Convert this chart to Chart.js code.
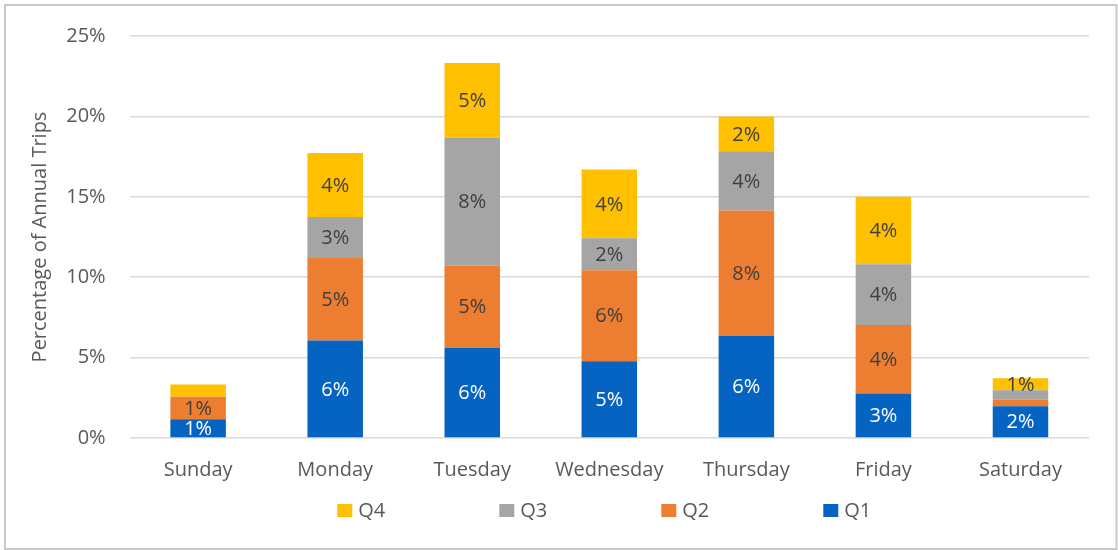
<!DOCTYPE html>
<html>
<head>
<meta charset="utf-8">
<script src="https://cdn.jsdelivr.net/npm/chart.js@4/dist/chart.umd.min.js"></script>
<style>
  html, body { margin: 0; padding: 0; background: #ffffff; }
  #wrap { position: relative; width: 1118px; height: 550px; }
</style>
</head>
<body>
<div id="wrap"><canvas id="c" width="1118" height="550"></canvas></div>
<script>
const categories = ['Sunday', 'Monday', 'Tuesday', 'Wednesday', 'Thursday', 'Friday', 'Saturday'];
const seriesNames = ['Q1', 'Q2', 'Q3', 'Q4'];
const q1 = [1.16, 6.07, 5.60, 4.77, 6.36, 2.77, 1.98];
const q2 = [1.41, 5.13, 5.12, 5.66, 7.79, 4.25, 0.40];
const q3 = [0.00, 2.55, 7.95, 1.99, 3.68, 3.78, 0.59];
const q4 = [0.76, 3.97, 4.65, 4.27, 2.16, 4.20, 0.74];
const yTicks = [0, 5, 10, 15, 20, 25];
const hiddenLabels = [['Q4', 'Sunday'], ['Q3', 'Saturday'], ['Q2', 'Saturday']];
const axisTitle = 'Percentage of Annual Trips';

const colors = { Q1: '#0563C1', Q2: '#ED7D31', Q3: '#A5A5A5', Q4: '#FFC000' };
const labelColors = { Q1: '#FFFFFF', Q2: '#404040', Q3: '#404040', Q4: '#404040' };
const FONT = "'Open Sans', 'Liberation Sans', sans-serif";

const seriesValues = [q1, q2, q3, q4];
const datasets = seriesNames.map((name, i) => ({
  label: name,
  data: seriesValues[i],
  backgroundColor: colors[name],
  borderWidth: 0,
  categoryPercentage: 1.0,
  barPercentage: 0.405
}));

const dataLabelPlugin = {
  id: 'dataLabels',
  afterDatasetsDraw(chart) {
    const ctx = chart.ctx;
    ctx.save();
    ctx.font = "20px " + FONT;
    ctx.textAlign = 'center';
    ctx.textBaseline = 'middle';
    chart.data.datasets.forEach((ds, di) => {
      const meta = chart.getDatasetMeta(di);
      meta.data.forEach((bar, i) => {
        const v = ds.data[i];
        if (!v) return;
        const cat = chart.data.labels[i];
        if (hiddenLabels.some(h => h[0] === ds.label && h[1] === cat)) return;
        const yc = (bar.y + bar.base) / 2;
        ctx.fillStyle = labelColors[ds.label];
        ctx.fillText(Math.round(v) + '%', bar.x, yc + 1);
      });
    });
    ctx.restore();
  }
};

const legendPlugin = {
  id: 'customLegend',
  afterDraw(chart) {
    const ctx = chart.ctx;
    const ca = chart.chartArea;
    const center = (ca.left + ca.right) / 2;
    const start = center - 272;
    const step = 162;
    const y = 510.5;
    ctx.save();
    ctx.font = "20px " + FONT;
    ctx.textAlign = 'left';
    ctx.textBaseline = 'middle';
    const items = chart.data.datasets.slice().reverse();
    items.forEach((ds, k) => {
      const x = start + k * step;
      ctx.fillStyle = ds.backgroundColor;
      ctx.fillRect(x, y - 6.5, 15, 13);
      ctx.fillStyle = '#595959';
      ctx.fillText(ds.label, x + 21, y + 1);
    });
    ctx.restore();
  }
};

const borderPlugin = {
  id: 'outerBorder',
  afterDraw(chart) {
    const ctx = chart.ctx;
    ctx.save();
    ctx.strokeStyle = '#C9C9C9';
    ctx.lineWidth = 2;
    ctx.strokeRect(5, 5, 1111.5, 544);
    ctx.restore();
  }
};

new Chart(document.getElementById('c'), {
  type: 'bar',
  data: { labels: categories, datasets: datasets },
  options: {
    responsive: false,
    devicePixelRatio: 1,
    animation: false,
    layout: { padding: { top: 34, left: 24, right: 29, bottom: 48 } },
    plugins: {
      legend: { display: false },
      tooltip: { enabled: false }
    },
    scales: {
      x: {
        stacked: true,
        grid: { display: false, drawTicks: false },
        border: { display: false },
        ticks: { color: '#595959', font: { family: FONT, size: 20 }, padding: 20 }
      },
      y: {
        stacked: true,
        min: 0,
        max: 25,
        afterBuildTicks(scale) { scale.ticks = yTicks.map(v => ({ value: v })); },
        afterFit(scale) { scale.width = 105.6; },
        grid: { color: '#D9D9D9', lineWidth: 1.5, drawTicks: false },
        border: { display: false },
        ticks: {
          color: '#595959',
          font: { family: FONT, size: 20 },
          padding: 24,
          callback: v => v + '%'
        },
        title: {
          display: true,
          text: axisTitle,
          color: '#595959',
          font: { family: FONT, size: 20 },
          padding: { top: 4, bottom: 4 }
        }
      }
    }
  },
  plugins: [dataLabelPlugin, legendPlugin, borderPlugin]
});
</script>
</body>
</html>
